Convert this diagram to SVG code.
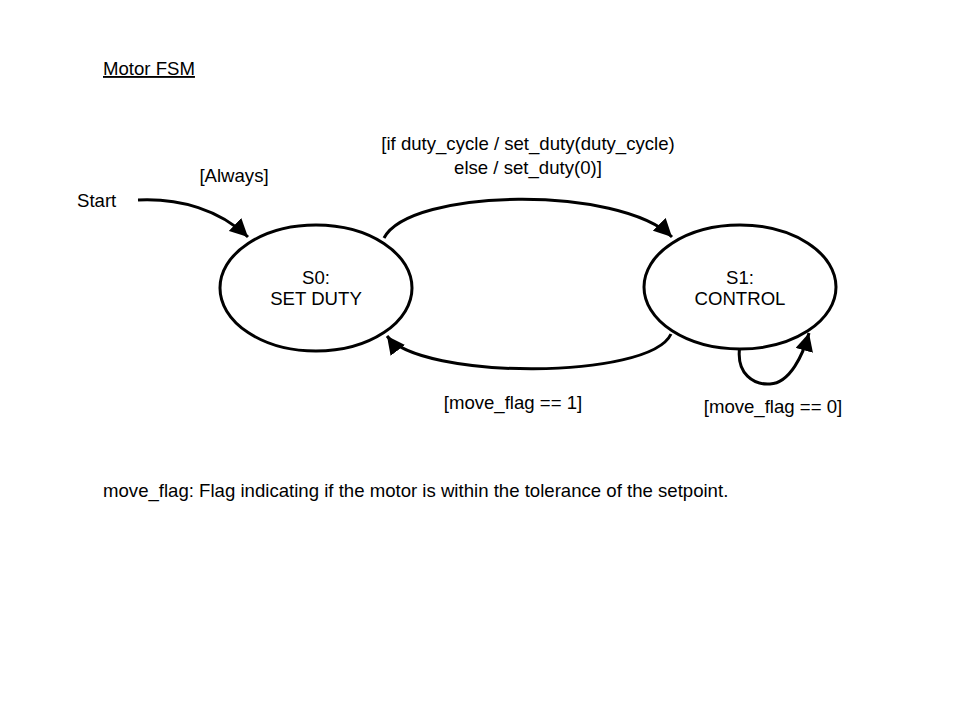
<svg xmlns="http://www.w3.org/2000/svg" width="960" height="720" viewBox="0 0 960 720">
<defs>
<marker id="ah" viewBox="0 0 10 10" refX="10" refY="5" markerWidth="6" markerHeight="6" markerUnits="strokeWidth" orient="auto">
<path d="M0,0 L10,5 L0,10 Z" fill="#000"/>
</marker>
<style>
text{font-family:"Liberation Sans",Arial,sans-serif;font-size:18.6px;fill:#000}
.st{fill:#fff;stroke:#000;stroke-width:3}
.c{fill:none;stroke:#000;stroke-width:3;marker-end:url(#ah)}
.m{text-anchor:middle}
</style>
</defs>
<rect width="960" height="720" fill="#fff"/>
<text x="103" y="75" text-decoration="underline">Motor FSM</text>
<g id="connectors">
<path class="c" d="M138,200 C180,198 220,210 248,237"/>
<path class="c" d="M384,238 C410,188 620,185 672,237"/>
<path class="c" d="M671,334 C650,380 420,380 387,336"/>
<path class="c" d="M740,345 C735,375 755,385 770,384 C790,383 803,355 809,333"/>
</g>
<g id="s0">
<ellipse class="st" cx="316" cy="288" rx="96" ry="63"/>
<text class="m" x="316" y="284">S0:</text>
<text class="m" x="316" y="305">SET DUTY</text>
</g>
<g id="s1">
<ellipse class="st" cx="740" cy="287" rx="96" ry="62"/>
<text class="m" x="740" y="284">S1:</text>
<text class="m" x="740" y="305">CONTROL</text>
</g>
<text x="77" y="207">Start</text>
<text class="m" x="234" y="182">[Always]</text>
<text class="m" x="528" y="150">[if duty_cycle / set_duty(duty_cycle)</text>
<text class="m" x="528" y="174">else / set_duty(0)]</text>
<text class="m" x="513" y="409">[move_flag == 1]</text>
<text class="m" x="773" y="413">[move_flag == 0]</text>
<text x="103" y="497">move_flag: Flag indicating if the motor is within the tolerance of the setpoint.</text>
</svg>
